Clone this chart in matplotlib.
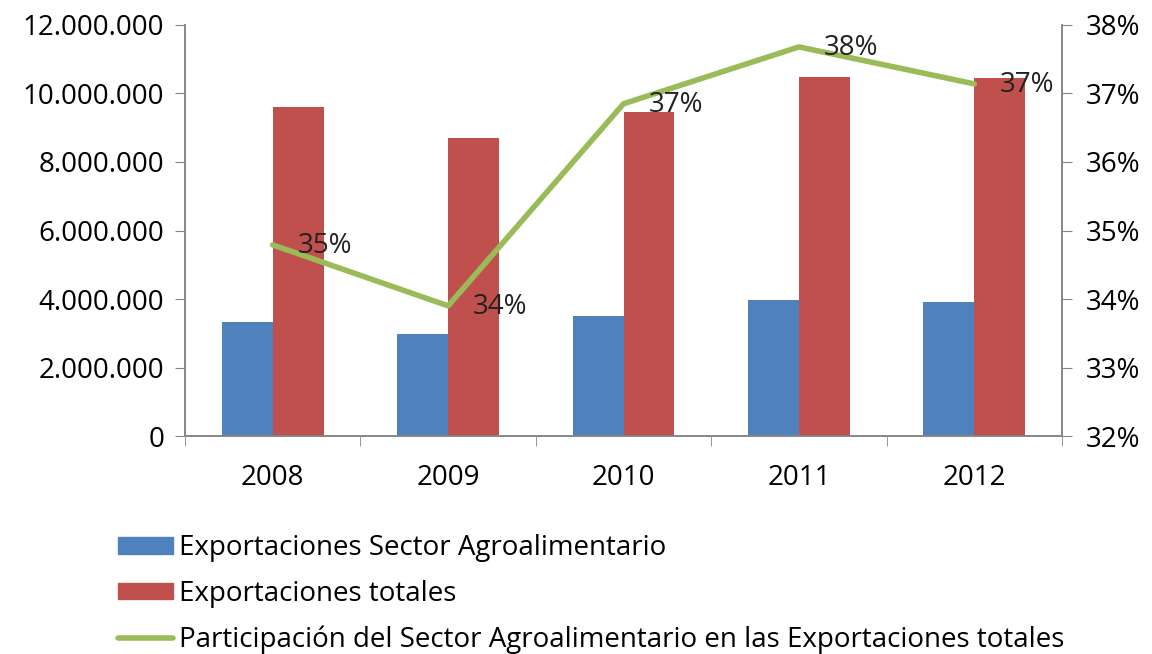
import matplotlib.pyplot as plt
import numpy as np
from matplotlib.ticker import FuncFormatter, FixedLocator
from matplotlib.lines import Line2D
from matplotlib.patches import Patch

years = ['2008', '2009', '2010', '2011', '2012']
agro = [3330000, 2980000, 3500000, 3970000, 3910000]
totales = [9600000, 8700000, 9460000, 10480000, 10450000]
participacion = [34.79, 33.90, 36.85, 37.68, 37.14]
etiquetas = ['35%', '34%', '37%', '38%', '37%']

blue = '#4F81BD'
red = '#C0504D'
green = '#9BBB59'
grey = '#868686'

plt.rcParams['font.family'] = ['Open Sans', 'DejaVu Sans']
fs = 20

fig = plt.figure(figsize=(11.52, 6.54), dpi=100)
ax = fig.add_axes([0.1606, 0.3333, 0.7613, 0.6285])
ax2 = ax.twinx()

x = np.arange(len(years))
w = 0.29
ax.bar(x - w / 2, agro, w, color=blue, zorder=2)
ax.bar(x + w / 2, totales, w, color=red, zorder=2)

ax2.plot(x, participacion, color=green, lw=4, solid_capstyle='round', zorder=3)
for xi, yi, lab in zip(x, participacion, etiquetas):
    ax2.annotate(lab, (xi, yi), xytext=(18, -1), textcoords='offset points',
                 va='center', ha='left', fontsize=fs, color='#222222')

ax.set_xlim(-0.5, len(years) - 0.5)
ax.set_ylim(0, 12000000)
ax2.set_ylim(32, 38)
ax.set_yticks(np.arange(0, 12000001, 2000000))
ax2.set_yticks(np.arange(32, 38.1, 1))
ax.yaxis.set_major_formatter(FuncFormatter(lambda v, p: f'{int(v):,}'.replace(',', '.')))
ax2.yaxis.set_major_formatter(FuncFormatter(lambda v, p: f'{int(round(v))}%'))

ax.set_xticks(x)
ax.set_xticklabels(years)
ax.xaxis.set_minor_locator(FixedLocator(np.arange(-0.5, len(years), 1)))
ax.tick_params(axis='x', which='major', length=0, pad=20, labelsize=fs)
ax.tick_params(axis='x', which='minor', length=7, color=grey, direction='out')
ax.tick_params(axis='y', length=7, color=grey, labelsize=fs, pad=8)
ax2.tick_params(axis='y', length=7, color=grey, labelsize=fs, pad=10)

for a in (ax, ax2):
    a.spines['top'].set_visible(False)
    for s in ('left', 'right', 'bottom'):
        a.spines[s].set_color(grey)
        a.spines[s].set_linewidth(1.2)

handles = [Patch(color=blue), Patch(color=red), Line2D([0], [0], color=green, lw=4, solid_capstyle='round')]
labels = ['Exportaciones Sector Agroalimentario', 'Exportaciones totales',
          'Participación del Sector Agroalimentario en las Exportaciones totales']
fig.legend(handles, labels, loc='upper left', bbox_to_anchor=(0.102, 0.183), frameon=False,
           fontsize=fs, handlelength=2.0, handleheight=0.55, handletextpad=0.2,
           labelspacing=0.63, borderaxespad=0, borderpad=0)

fig.savefig('out.png', dpi=100)
